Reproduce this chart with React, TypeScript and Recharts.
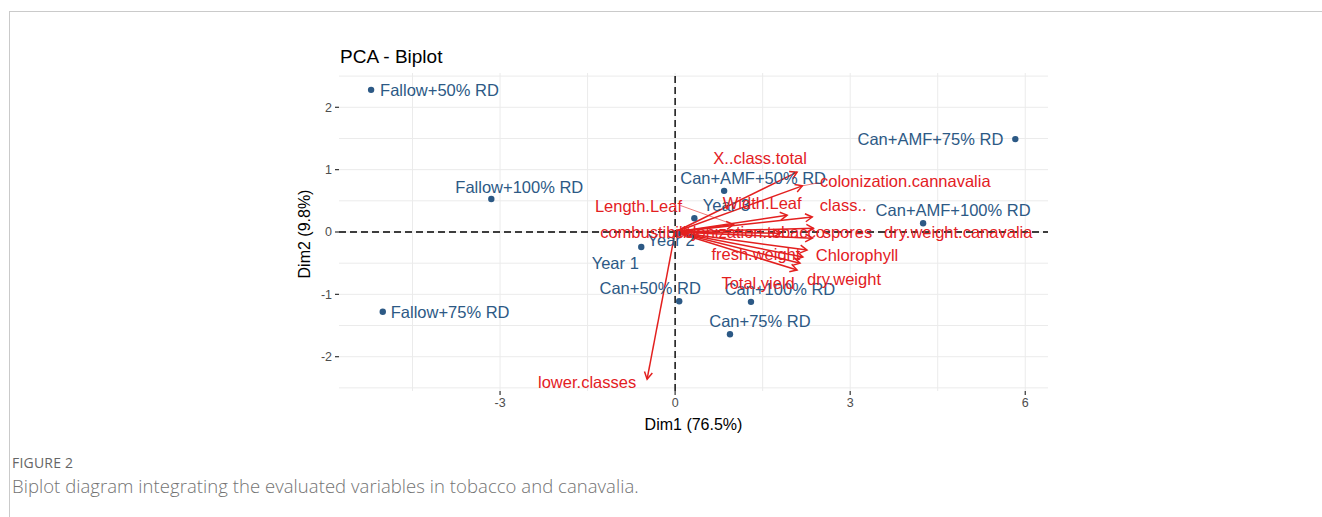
import React from 'react'
import { ScatterChart, Scatter, XAxis, YAxis, ReferenceLine } from 'recharts'

// individuals (coordinates on Dim1 / Dim2)
const individuals = [
  { name: 'Fallow+50% RD', x: -5.21, y: 2.28 },
  { name: 'Fallow+100% RD', x: -3.15, y: 0.53 },
  { name: 'Fallow+75% RD', x: -5.01, y: -1.28 },
  { name: 'Can+AMF+75% RD', x: 5.83, y: 1.49 },
  { name: 'Can+AMF+100% RD', x: 4.25, y: 0.14 },
  { name: 'Can+AMF+50% RD', x: 0.84, y: 0.66 },
  { name: 'Year 3', x: 0.33, y: 0.22 },
  { name: 'Year 2', x: 0.05, y: -0.03 },
  { name: 'Year 1', x: -0.58, y: -0.24 },
  { name: 'Can+50% RD', x: 0.07, y: -1.11 },
  { name: 'Can+100% RD', x: 1.3, y: -1.12 },
  { name: 'Can+75% RD', x: 0.94, y: -1.64 },
]

// variable loadings (arrow tips)
const variables = [
  { name: 'X..class.total', x: 2.09, y: 0.96 },
  { name: 'colonization.cannavalia', x: 2.18, y: 0.74 },
  { name: 'Width.Leaf', x: 1.92, y: 0.27 },
  { name: 'class..', x: 2.35, y: 0.24 },
  { name: 'Length.Leaf', x: 1.0, y: 0.12 },
  { name: 'combustibility', x: 0.25, y: 0.02 },
  { name: 'colonization.tobacco', x: 1.8, y: -0.02 },
  { name: 'spores', x: 2.37, y: 0.06 },
  { name: 'dry.weight.canavalia', x: 2.35, y: -0.1 },
  { name: 'Chlorophyll', x: 2.26, y: -0.29 },
  { name: 'fresh.weight', x: 2.19, y: -0.4 },
  { name: 'dry.weight', x: 2.14, y: -0.5 },
  { name: 'Total.yield', x: 2.09, y: -0.61 },
  { name: 'lower.classes', x: -0.48, y: -2.36 },
]

const xTicks = [-3, 0, 3, 6]
const yTicks = [-2, -1, 0, 1, 2]
const xGrid = [-4.5, -3, -1.5, 0, 1.5, 3, 4.5, 6]
const yGrid = [-2.5, -2, -1.5, -1, -0.5, 0, 0.5, 1, 1.5, 2, 2.5]

// repelled label placement, pixels from the point
const indLabel: Record<string, [number, number, 'start' | 'middle' | 'end']> = {
  'Fallow+50% RD': [9, 0, 'start'],
  'Fallow+100% RD': [28, -12, 'middle'],
  'Fallow+75% RD': [8, 0, 'start'],
  'Can+AMF+75% RD': [-12, 0, 'end'],
  'Can+AMF+100% RD': [30, -13, 'middle'],
  'Can+AMF+50% RD': [29, -13, 'middle'],
  'Year 3': [32, -13, 'middle'],
  'Year 2': [-7, 6, 'middle'],
  'Year 1': [-26, 16, 'middle'],
  'Can+50% RD': [-29, -13, 'middle'],
  'Can+100% RD': [29, -13, 'middle'],
  'Can+75% RD': [30, -13, 'middle'],
}

const varLabel: Record<string, number[]> = {
  'X..class.total': [-37, -14],
  'colonization.cannavalia': [103, -5, 16, -3],
  'Width.Leaf': [-25, -12],
  'class..': [31, -12],
  'Length.Leaf': [-95, -19, -53, -19],
  'combustibility': [-40, 1],
  'colonization.tobacco': [-30, -1],
  'spores': [34, 4],
  'dry.weight.canavalia': [146, -6],
  'Chlorophyll': [50, 5],
  'fresh.weight': [-47, -3],
  'dry.weight': [44, 16],
  'Total.yield': [-39, 13],
  'lower.classes': [-60, 3],
}

const BLUE = '#2c5985'
const RED = '#e3201f'
const FONT = '"Liberation Sans", Arial, Helvetica, sans-serif'

const IndShape = (props: any) => {
  const { cx, cy, payload } = props
  const [dx, dy, anchor] = indLabel[payload.name] || [8, 0, 'start']
  return (
    <g>
      <circle cx={cx} cy={cy} r={3.2} fill={BLUE} />
      <text x={cx + dx} y={cy + dy} textAnchor={anchor} dominantBaseline="central" fill={BLUE} fontSize={16.5} fontFamily={FONT}>
        {payload.name}
      </text>
    </g>
  )
}

const VarShape = (props: any) => {
  const { cx, cy, payload } = props
  const l = varLabel[payload.name] || [0, -10]
  return (
    <g>
      {l.length > 2 && <line x1={cx} y1={cy} x2={cx + l[2]} y2={cy + l[3]} stroke={RED} strokeWidth={0.6} />}
      <text x={cx + l[0]} y={cy + l[1]} textAnchor="middle" dominantBaseline="central" fill={RED} fontSize={16.5} fontFamily={FONT}>
        {payload.name}
      </text>
    </g>
  )
}

const ArrowShape = (props: any) => {
  const { x1, y1, x2, y2 } = props
  if (x1 == null || x2 == null) return <g />
  const a = Math.atan2(y2 - y1, x2 - x1)
  const len = 8
  const s = Math.PI / 6
  const ax = x2 - len * Math.cos(a - s)
  const ay = y2 - len * Math.sin(a - s)
  const bx = x2 - len * Math.cos(a + s)
  const by = y2 - len * Math.sin(a + s)
  return (
    <g fill="none" stroke={RED} strokeWidth={1.5}>
      <line x1={x1} y1={y1} x2={x2} y2={y2} />
      <path d={`M${ax},${ay}L${x2},${y2}L${bx},${by}`} />
    </g>
  )
}

export default function App() {
  return (
    <div style={{ position: 'absolute', left: 0, top: 0, width: 1322, height: 517, background: '#fff', overflow: 'hidden', fontFamily: FONT }}>
      <div style={{ position: 'absolute', left: 9, top: 11, right: 0, height: 1, background: '#cacaca' }} />
      <div style={{ position: 'absolute', left: 9, top: 11, bottom: 0, width: 1, background: '#cacaca' }} />

      <div style={{ position: 'absolute', left: 340, top: 45, fontSize: 19, color: '#000', lineHeight: '24px' }}>PCA - Biplot</div>
      <div
        style={{
          position: 'absolute', left: 305, top: 234, fontSize: 16, color: '#000', whiteSpace: 'nowrap',
          transform: 'translate(-50%, -50%) rotate(-90deg)',
        }}
      >
        Dim2 (9.8%)
      </div>

      <div style={{ position: 'absolute', left: 0, top: 0 }}>
        <ScatterChart width={1322} height={450} margin={{ top: 73, right: 274, bottom: 14, left: 299 }}>
          {xGrid.map((v) => (
            <ReferenceLine key={'gx' + v} x={v} stroke="#ebebeb" strokeWidth={1} />
          ))}
          {yGrid.map((v) => (
            <ReferenceLine key={'gy' + v} y={v} stroke="#ebebeb" strokeWidth={1} />
          ))}
          <XAxis
            type="number"
            dataKey="x"
            domain={[-5.76, 6.39]}
            ticks={xTicks}
            allowDataOverflow
            axisLine={false}
            tickSize={4}
            tickMargin={3}
            height={45}
            tickLine={{ stroke: '#333', strokeWidth: 1.2 }}
            tick={{ fill: '#4d4d4d', fontSize: 12.5, fontFamily: FONT }}
            label={{ value: 'Dim1 (76.5%)', position: 'insideBottom', offset: 6, fill: '#000', fontSize: 16, fontFamily: FONT }}
          />
          <YAxis
            type="number"
            dataKey="y"
            domain={[-2.55, 2.55]}
            ticks={yTicks}
            allowDataOverflow
            axisLine={false}
            width={40}
            tickSize={4}
            tickMargin={3}
            tickLine={{ stroke: '#333', strokeWidth: 1.2 }}
            tick={{ fill: '#4d4d4d', fontSize: 12.5, fontFamily: FONT }}
          />
          <ReferenceLine x={0} stroke="#000" strokeWidth={1.4} strokeDasharray="7 4" />
          <ReferenceLine y={0} stroke="#000" strokeWidth={1.4} strokeDasharray="7 4" />
          <Scatter data={individuals} shape={IndShape} isAnimationActive={false} />
          {variables.map((v) => (
            <ReferenceLine key={'a' + v.name} segment={[{ x: 0, y: 0 }, { x: v.x, y: v.y }]} shape={ArrowShape} />
          ))}
          <Scatter data={variables} shape={VarShape} isAnimationActive={false} />
        </ScatterChart>
      </div>

      <div style={{ position: 'absolute', left: 12, top: 453, fontSize: 14, color: '#666', fontFamily: '"Open Sans", sans-serif', letterSpacing: 0.2 }}>
        FIGURE 2
      </div>
      <div style={{ position: 'absolute', left: 12, top: 473, fontSize: 18.5, color: '#737373', fontFamily: '"Open Sans", sans-serif', fontWeight: 300, whiteSpace: 'nowrap', letterSpacing: 0.05 }}>
        Biplot diagram integrating the evaluated variables in tobacco and canavalia.
      </div>
    </div>
  )
}
